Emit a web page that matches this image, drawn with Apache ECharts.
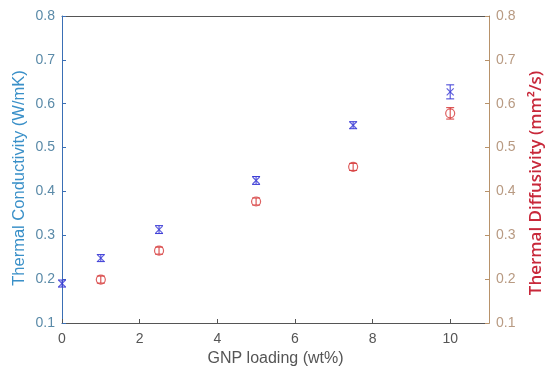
<!DOCTYPE html>
<html><head><meta charset="utf-8">
<script src="https://cdn.jsdelivr.net/npm/echarts@6/dist/echarts.min.js"></script>
<style>html,body{margin:0;padding:0;background:#fff}#c{width:547px;height:369px}</style>
</head><body><div id="c"></div>
<script>
var loading = [0, 1, 2.5, 5, 7.5, 10];
var conductivity = [0.19, 0.248, 0.313, 0.425, 0.551, 0.627];
var conductivityErr = [0.008, 0.008, 0.009, 0.009, 0.008, 0.016];
var diffLoading = [1, 2.5, 5, 7.5, 10];
var diffusivity = [0.199, 0.265, 0.377, 0.456, 0.578];
var diffusivityErr = [0.008, 0.008, 0.008, 0.008, 0.013];
var xTicks = [0, 2, 4, 6, 8, 10];
var yTicks = [0.1, 0.2, 0.3, 0.4, 0.5, 0.6, 0.7, 0.8];

var blue = '#3b3bd6', red = '#d63a3a';
function pts(xs, ys, es) { return xs.map(function (x, i) { return [x, ys[i], es ? es[i] : 0]; }); }
function errItem(color) {
  return function (params, api) {
    var x = api.value(0), y = api.value(1), e = api.value(2);
    var lo = api.coord([x, y - e]), hi = api.coord([x, y + e]);
    var w = 4;
    var st = { stroke: color, lineWidth: 1 };
    return { type: 'group', children: [
      { type: 'line', shape: { x1: lo[0], y1: lo[1], x2: hi[0], y2: hi[1] }, style: st },
      { type: 'line', shape: { x1: lo[0] - w, y1: lo[1], x2: lo[0] + w, y2: lo[1] }, style: st },
      { type: 'line', shape: { x1: hi[0] - w, y1: hi[1], x2: hi[0] + w, y2: hi[1] }, style: st }
    ]};
  };
}
function yFmt(v) { var r = Math.round(v * 10) / 10; return yTicks.indexOf(r) >= 0 ? r.toFixed(1) : ''; }
var chart = echarts.init(document.getElementById('c'), null, { renderer: 'canvas' });
var font = 'Liberation Sans, Arial, sans-serif';
chart.setOption({
  animation: false,
  grid: { left: 62, right: 58, top: 16, bottom: 46, containLabel: false, outerBoundsMode: 'none' },
  graphic: [{
    type: 'text', x: 19, y: 178, rotation: Math.PI / 2,
    style: { text: 'Thermal Conductivity (W/mK)', fill: '#3a90c8', font: '16.5px ' + font, align: 'center', verticalAlign: 'middle' }
  }, {
    type: 'text', x: 536, y: 183, rotation: Math.PI / 2,
    style: { text: 'Thermal Diffusivity (mm²/s)', fill: '#c8283a', font: '600 17px "Open Sans", sans-serif', align: 'center', verticalAlign: 'middle' }
  }],
  xAxis: [{
    type: 'value', min: 0, max: 11, interval: 2,
    name: 'GNP loading (wt%)', nameLocation: 'middle', nameGap: 25,
    nameTextStyle: { color: '#555', fontSize: 16, fontFamily: font },
    axisLine: { onZero: false, lineStyle: { color: '#555', width: 1 } },
    axisTick: { inside: true, length: 4, lineStyle: { color: '#555' } },
    axisLabel: { color: '#555', fontSize: 14, fontFamily: font, margin: 9, showMaxLabel: false,
      formatter: function (v) { return xTicks.indexOf(v) >= 0 ? String(v) : ''; } },
    splitLine: { show: false }
  }, {
    type: 'value', min: 0, max: 11, position: 'top',
    axisLine: { show: true, onZero: false, lineStyle: { color: '#555' } },
    axisTick: { show: false }, axisLabel: { show: false }, splitLine: { show: false }
  }],
  yAxis: [{
    type: 'value', min: 0.1, max: 0.8, interval: 0.1, position: 'left',
    axisLine: { show: true, onZero: false, lineStyle: { color: '#3a6fb5' } },
    axisTick: { show: true, inside: true, length: 4, lineStyle: { color: '#3a6fb5' } },
    axisLabel: { color: '#5a8aa8', fontSize: 14, fontFamily: font, margin: 7, formatter: yFmt },
    splitLine: { show: false }
  }, {
    type: 'value', min: 0.1, max: 0.8, interval: 0.1, position: 'right',
    axisLine: { show: true, onZero: false, lineStyle: { color: '#b8926a' } },
    axisTick: { show: true, inside: true, length: 4, lineStyle: { color: '#b8926a' } },
    axisLabel: { color: '#b89a82', fontSize: 14, fontFamily: font, margin: 7, formatter: yFmt },
    splitLine: { show: false }
  }],
  series: [{
    type: 'custom', xAxisIndex: 0, yAxisIndex: 0, renderItem: errItem(blue),
    data: pts(loading, conductivity, conductivityErr), z: 3
  }, {
    type: 'scatter', xAxisIndex: 0, yAxisIndex: 0,
    symbol: 'path://M0,0L10,10M10,0L0,10', symbolSize: 7,
    itemStyle: { color: 'none', borderColor: blue, borderWidth: 1.2 },
    data: pts(loading, conductivity), z: 4
  }, {
    type: 'custom', xAxisIndex: 0, yAxisIndex: 1, renderItem: errItem(red),
    data: pts(diffLoading, diffusivity, diffusivityErr), z: 3
  }, {
    type: 'scatter', xAxisIndex: 0, yAxisIndex: 1,
    symbol: 'circle', symbolSize: 9,
    itemStyle: { color: 'none', borderColor: red, borderWidth: 1.2 },
    data: pts(diffLoading, diffusivity), z: 4
  }]
});
</script></body></html>
